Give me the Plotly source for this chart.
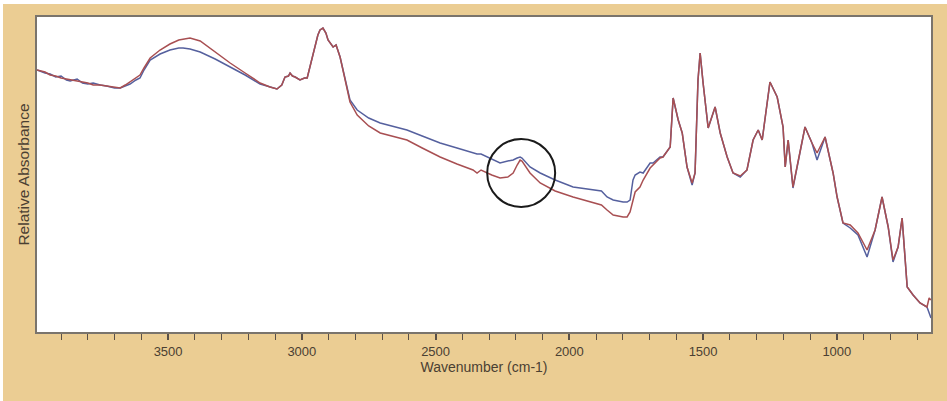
import plotly.graph_objects as go

wavenumber = [3990, 3960, 3941, 3920, 3900, 3880, 3866, 3840, 3820, 3800, 3780, 3754, 3730, 3700, 3679,
              3660, 3642, 3620, 3605, 3590, 3567, 3530, 3493, 3460, 3444, 3418, 3380, 3324, 3268, 3212,
              3156, 3119, 3093, 3075, 3063, 3050, 3044, 3035, 3025, 3007, 2990, 2980, 2958, 2940, 2932,
              2921, 2910, 2902, 2883, 2872, 2857, 2838, 2820, 2793, 2750, 2707, 2650, 2607, 2550, 2483,
              2420, 2360, 2345, 2330, 2290, 2259, 2230, 2210, 2195, 2184, 2177, 2165, 2147, 2109, 2053,
              1986, 1922, 1896, 1880, 1859, 1836, 1799, 1784, 1773, 1762, 1754, 1736, 1724, 1698, 1687,
              1661, 1650, 1623, 1612, 1593, 1578, 1560, 1541, 1530, 1519, 1511, 1500, 1481, 1455, 1436,
              1410, 1388, 1361, 1336, 1313, 1294, 1279, 1250, 1223, 1201, 1193, 1182, 1164, 1137, 1119,
              1093, 1074, 1044, 1014, 999, 977, 950, 921, 887, 857, 831, 808, 790, 771, 756,
              745, 737, 715, 689, 663, 655, 648]

blue_absorbance = [2.62, 2.59, 2.58, 2.55, 2.56, 2.52, 2.51, 2.53, 2.49, 2.48, 2.49, 2.47, 2.46, 2.44, 2.44,
                   2.46, 2.48, 2.52, 2.54, 2.62, 2.72, 2.78, 2.82, 2.84, 2.84, 2.83, 2.80, 2.73, 2.65, 2.57,
                   2.48, 2.45, 2.43, 2.47, 2.55, 2.56, 2.59, 2.56, 2.55, 2.52, 2.54, 2.54, 2.79, 2.97, 3.02,
                   3.04, 2.99, 2.92, 2.85, 2.87, 2.75, 2.52, 2.32, 2.22, 2.14, 2.09, 2.05, 2.02, 1.96, 1.89,
                   1.84, 1.79, 1.78, 1.78, 1.73, 1.69, 1.71, 1.72, 1.74, 1.75, 1.74, 1.70, 1.65, 1.59, 1.52,
                   1.45, 1.43, 1.42, 1.41, 1.35, 1.32, 1.30, 1.30, 1.32, 1.52, 1.57, 1.60, 1.59, 1.69, 1.69,
                   1.75, 1.75, 1.85, 2.34, 2.12, 1.99, 1.65, 1.47, 1.59, 2.52, 2.79, 2.49, 2.04, 2.25, 1.99,
                   1.75, 1.59, 1.55, 1.62, 1.92, 2.02, 1.92, 2.50, 2.35, 2.05, 1.65, 1.92, 1.44, 1.79, 2.05,
                   1.89, 1.72, 1.95, 1.59, 1.35, 1.09, 1.04, 0.97, 0.75, 1.02, 1.35, 1.05, 0.70, 0.85, 1.14,
                   0.79, 0.45, 0.37, 0.29, 0.25, 0.19, 0.14]

red_absorbance = [2.62, 2.60, 2.57, 2.56, 2.54, 2.53, 2.52, 2.51, 2.50, 2.49, 2.47, 2.47, 2.46, 2.45, 2.44,
                  2.47, 2.50, 2.54, 2.57, 2.64, 2.74, 2.82, 2.88, 2.92, 2.93, 2.94, 2.91, 2.80, 2.69, 2.59,
                  2.49, 2.45, 2.43, 2.47, 2.55, 2.56, 2.59, 2.56, 2.55, 2.52, 2.54, 2.54, 2.79, 2.97, 3.02,
                  3.04, 2.99, 2.92, 2.85, 2.87, 2.75, 2.52, 2.30, 2.17, 2.06, 1.99, 1.95, 1.92, 1.84, 1.75,
                  1.68, 1.62, 1.59, 1.62, 1.57, 1.54, 1.55, 1.59, 1.67, 1.72, 1.71, 1.66, 1.59, 1.49, 1.41,
                  1.35, 1.30, 1.28, 1.27, 1.22, 1.17, 1.15, 1.15, 1.20, 1.32, 1.40, 1.45, 1.52, 1.64, 1.67,
                  1.74, 1.75, 1.85, 2.34, 2.12, 1.99, 1.65, 1.49, 1.59, 2.52, 2.79, 2.49, 2.04, 2.25, 1.99,
                  1.75, 1.59, 1.56, 1.62, 1.92, 2.02, 1.92, 2.50, 2.35, 2.05, 1.65, 1.92, 1.45, 1.79, 2.05,
                  1.89, 1.79, 1.95, 1.59, 1.35, 1.09, 1.07, 0.99, 0.82, 1.02, 1.35, 1.05, 0.72, 0.85, 1.14,
                  0.79, 0.45, 0.37, 0.29, 0.25, 0.34, 0.32]

circle_center = (2180, 1.59)
circle_radius_x = 127
circle_radius_y = 0.34

tan = "#EBCD93"
text_color = "#4a4032"

fig = go.Figure()
fig.add_trace(go.Scatter(x=wavenumber, y=blue_absorbance, mode="lines",
                         line=dict(color="#55609e", width=1.5), showlegend=False))
fig.add_trace(go.Scatter(x=wavenumber, y=red_absorbance, mode="lines",
                         line=dict(color="#a84f52", width=1.5), showlegend=False))

fig.add_shape(type="circle", xref="x", yref="y",
              x0=circle_center[0] + circle_radius_x, x1=circle_center[0] - circle_radius_x,
              y0=circle_center[1] - circle_radius_y, y1=circle_center[1] + circle_radius_y,
              line=dict(color="#1a1a1a", width=2))

fig.update_layout(
    width=944, height=397,
    margin=dict(l=34, r=16, t=13, b=69),
    paper_bgcolor=tan, plot_bgcolor="white",
    font=dict(family="Liberation Sans, Arial, sans-serif", size=13, color=text_color),
    xaxis=dict(range=[3990, 648], tick0=0, dtick=500, ticks="outside", ticklen=6, tickwidth=1.5,
               tickcolor="#5a5048", showgrid=False, zeroline=False,
               showline=True, linecolor="#7a746c", linewidth=1.5, mirror=True,
               ticklabelstandoff=1,
               minor=dict(dtick=100, ticks="outside", ticklen=6, tickwidth=1.2, tickcolor="#5a5048"),
               title=dict(text="Wavenumber (cm-1)", standoff=2, font=dict(size=14, color=text_color)),
               tickfont=dict(size=13, color=text_color)),
    yaxis=dict(range=[0, 3.15], showticklabels=False, ticks="", showgrid=False, zeroline=False,
               showline=True, linecolor="#7a746c", linewidth=1.5, mirror=True,
               title=dict(text="Relative Absorbance", standoff=2, font=dict(size=15.5, color=text_color))),
)

fig.write_html("out.html",
               post_script="document.body.style.margin='4px 0 0 3px';document.body.style.overflow='hidden';")
